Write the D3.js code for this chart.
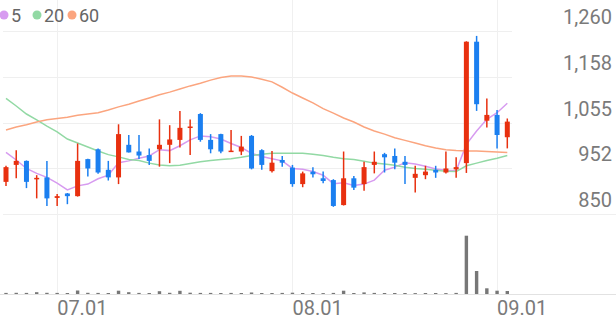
<!DOCTYPE html>
<html>
<head>
<meta charset="utf-8">
<script src="https://cdn.jsdelivr.net/npm/d3@7"></script>
<style>
body { margin: 0; background: #fff; }
svg text { font-family: Roboto, "Noto Sans", sans-serif; }
</style>
</head>
<body>
<svg id="chart" width="616" height="321"></svg>
<script>
var dates = ["2020-06-24","2020-06-25","2020-06-26","2020-06-29","2020-06-30",
  "2020-07-01","2020-07-02","2020-07-03","2020-07-06","2020-07-07","2020-07-08","2020-07-09","2020-07-10",
  "2020-07-13","2020-07-14","2020-07-15","2020-07-16","2020-07-17","2020-07-20","2020-07-21","2020-07-22",
  "2020-07-23","2020-07-24","2020-07-27","2020-07-28","2020-07-29","2020-07-30","2020-07-31",
  "2020-08-03","2020-08-04","2020-08-05","2020-08-06","2020-08-07","2020-08-10","2020-08-11","2020-08-12",
  "2020-08-13","2020-08-14","2020-08-18","2020-08-19","2020-08-20","2020-08-21","2020-08-24","2020-08-25",
  "2020-08-26","2020-08-27","2020-08-28","2020-08-31","2020-09-01","2020-09-02"];
var opens = [922,960,969,928,932,886,896,890,973,995,949,932,1005,990,982,995,1005,1016,1043,1074,
  1016,1029,989,990,1025,993,946,971,954,917,945,930,926,870,930,917,960,984,980,967,
  931,937,949,943,950,964,1236,1059,1072,1022];
var highs = [958,993,970,937,969,895,897,1008,974,997,969,1051,1027,1027,997,1062,1049,1081,1062,1076,
  1029,1030,1038,1025,1027,995,991,980,960,945,955,945,928,990,935,967,990,987,997,980,
  958,958,958,990,977,1237,1249,1109,1083,1064];
var lows = [913,930,908,885,868,868,872,889,934,940,925,917,988,973,960,956,964,999,982,1012,
  986,986,989,982,950,949,943,956,911,910,932,919,866,869,904,902,941,943,950,917,
  898,928,931,941,931,942,1081,1044,997,997];
var closes = [955,969,922,931,885,890,890,969,952,943,932,1029,988,981,969,1005,1017,1043,1046,1016,
  995,990,992,1001,952,960,965,965,917,941,939,924,868,930,909,955,967,977,965,960,
  940,945,943,952,955,1236,1096,1072,1027,1057];
var volumes = [110,120,110,180,120,110,100,350,120,110,100,330,180,110,100,280,120,320,130,110,
  110,100,110,100,150,100,100,110,130,100,100,90,110,330,100,160,110,100,100,100,
  90,100,100,90,110,5830,2300,570,330,300];
var ma5 = [988,971,952,941,932,919,904,913,917,929,937,965,969,975,980,994,992,1003,1016,1025,
  1023,1018,1008,999,986,979,974,969,952,950,945,937,918,920,914,917,926,948,955,965,
  962,957,951,948,947,1006,1036,1062,1077,1098];
var ma20 = [1109,1092,1074,1061,1047,1034,1018,1009,1000,991,983,978,972,970,964,960,958,959,963,967,
  970,972,974,977,981,984,986,986,986,986,984,981,977,974,972,968,964,962,959,955,
  952,950,948,946,945,958,964,970,975,981];
var ma60 = [1038,1045,1050,1056,1061,1064,1067,1071,1074,1077,1083,1090,1096,1103,1110,1117,1123,1130,1137,1143,
  1150,1156,1159,1159,1157,1152,1146,1134,1121,1110,1099,1086,1076,1065,1056,1045,1036,1029,1021,1015,
  1009,1003,998,994,992,991,991,990,989,988];
var priceTicks = [850, 952, 1055, 1158, 1260];
var monthTicks = ["2020-07-01", "2020-08-03", "2020-09-01"];
var monthLabels = ["07.01", "08.01", "09.01"];
var maNames = ["5", "20", "60"];
var maColors = ["#d79bf0", "#92d9a4", "#fba57f"];

var upColor = "#e8300f", downColor = "#1b7ff0";

var svg = d3.select("#chart");
var width = +svg.attr("width"), height = +svg.attr("height");

var x = d3.scalePoint().domain(dates).range([6, 507.3]);
var y = d3.scaleLinear().domain([850, 1260]).range([214, 31]);
var yVol = d3.scaleLinear().domain([0, 6000]).range([294, 234]);

// grid
svg.append("g").selectAll("line")
  .data(priceTicks)
  .enter()
  .append("line")
  .attr("x1", 3)
  .attr("x2", function(d){ return d == 850 ? width : 512; })
  .attr("y1", function(d){ return Math.round(y(d)) + 0.5; })
  .attr("y2", function(d){ return Math.round(y(d)) + 0.5; })
  .attr("stroke", "#efefef")
  .attr("stroke-width", 1);

svg.append("g").selectAll("line")
  .data(monthTicks)
  .enter()
  .append("line")
  .attr("x1", function(d){ return Math.round(x(d)) + 0.5; })
  .attr("x2", function(d){ return Math.round(x(d)) + 0.5; })
  .attr("y1", 0)
  .attr("y2", 294)
  .attr("stroke", "#f0f0f0")
  .attr("stroke-width", 1);

svg.append("line")
  .attr("x1", 0).attr("x2", width)
  .attr("y1", 294.5).attr("y2", 294.5)
  .attr("stroke", "#e2e2e2");

// price labels, drawn above their grid line
svg.append("g").selectAll("text")
  .data(priceTicks)
  .enter()
  .append("text")
  .attr("x", 612)
  .attr("y", function(d){ return y(d) - 7; })
  .attr("text-anchor", "end")
  .attr("font-size", 20)
  .attr("fill", "#7a7a7a")
  .text(function(d){ return d3.format(",")(d); });

svg.append("g").selectAll("text")
  .data(monthTicks)
  .enter()
  .append("text")
  .attr("x", function(d){ return x(d); })
  .attr("y", 315)
  .attr("font-size", 20)
  .attr("fill", "#7a7a7a")
  .text(function(d, i){ return monthLabels[i]; });

// moving averages
var maSeries = [ma5, ma20, ma60];
maSeries.forEach(function(series, k){
  svg.append("path")
    .datum(series)
    .attr("fill", "none")
    .attr("stroke", maColors[k])
    .attr("stroke-width", 1.5)
    .attr("d", d3.line()
      .x(function(d, i){ return x(dates[i]); })
      .y(function(d){ return y(d); }));
});

// candles
var candles = svg.append("g").selectAll("g")
  .data(dates)
  .enter()
  .append("g");

candles.append("line")
  .attr("x1", function(d){ return x(d); })
  .attr("x2", function(d){ return x(d); })
  .attr("y1", function(d, i){ return y(highs[i]); })
  .attr("y2", function(d, i){ return y(lows[i]); })
  .attr("stroke", function(d, i){ return closes[i] > opens[i] ? upColor : downColor; })
  .attr("stroke-width", 1.5);

candles.append("rect")
  .attr("x", function(d){ return x(d) - 2.5; })
  .attr("width", 5)
  .attr("y", function(d, i){ return y(Math.max(opens[i], closes[i])); })
  .attr("height", function(d, i){ return Math.max(1.5, Math.abs(y(opens[i]) - y(closes[i]))); })
  .attr("fill", function(d, i){ return closes[i] > opens[i] ? upColor : downColor; });

// volume
svg.append("g").selectAll("rect")
  .data(volumes)
  .enter()
  .append("rect")
  .attr("x", function(d, i){ return x(dates[i]) - 1.7; })
  .attr("width", 3.4)
  .attr("y", function(d){ return yVol(d); })
  .attr("height", function(d){ return 294 - yVol(d); })
  .attr("fill", "#777777");

// legend
var legendX = [4, 37, 72];
var legend = svg.append("g").selectAll("g")
  .data(maNames)
  .enter()
  .append("g");
legend.append("circle")
  .attr("cx", function(d, i){ return legendX[i]; })
  .attr("cy", 15)
  .attr("r", 4.5)
  .attr("fill", function(d, i){ return maColors[i]; });
legend.append("text")
  .attr("x", function(d, i){ return legendX[i] + 7; })
  .attr("y", 21.5)
  .attr("font-size", 18)
  .attr("fill", "#666")
  .text(function(d){ return d; });
</script>
</body>
</html>
